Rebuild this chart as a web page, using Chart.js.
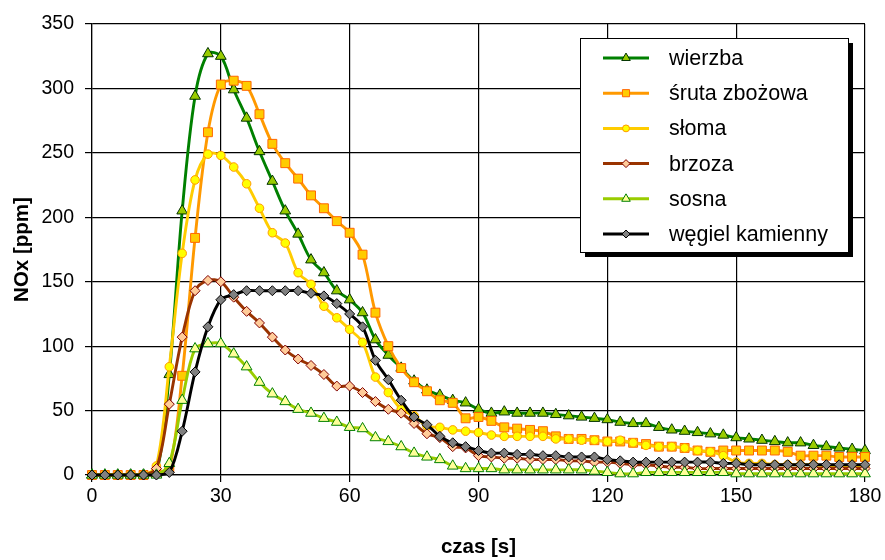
<!DOCTYPE html>
<html><head><meta charset="utf-8">
<script src="https://cdn.jsdelivr.net/npm/chart.js@4/dist/chart.umd.min.js"></script>
<style>html,body{margin:0;padding:0;background:#fff}canvas{display:block}</style>
</head><body>
<canvas id="c" width="885" height="560"></canvas>
<script>
// time [s]
const czas = [0,3,6,9,12,15,18,21,24,27,30,33,36,39,42,45,48,51,54,57,60,63,66,69,72,75,78,81,84,87,90,93,96,99,102,105,108,111,114,117,120,123,126,129,132,135,138,141,144,147,150,153,156,159,162,165,168,171,174,177,180];
// NOx [ppm]
const wierzba = [0,0,0,0,0,1,78,205,294,327,325,299,277,251,228,205,187,167,157,143,136,126,105,93,83,73,66,62,58,56,51,48,49,48,48,48,47,46,45,44,43,41,40,40,37,35,34,33,32,31,29,28,27,26,25,25,23,22,21,20,19];
const srutaZbozowa = [0,0,0,0,0,2,5,77,184,266,303,306,302,280,257,242,230,217,207,197,188,171,126,100,83,72,65,58,56,44,45,42,37,36,35,34,30,28,28,27,26,26,25,24,22,22,21,19,18,19,19,19,19,19,18,15,15,15,14,14,14];
const sloma = [0,0,0,0,0,7,84,172,229,249,248,239,226,207,188,180,157,148,131,122,113,103,76,64,51,46,38,37,35,34,33,31,30,30,30,30,28,28,27,27,26,27,25,23,22,22,21,19,18,15,10,9,9,8,8,8,8,7,7,7,7];
const brzoza = [0,0,0,0,0,5,55,107,143,151,150,138,127,118,107,97,90,85,78,69,69,64,57,51,48,40,32,29,22,21,15,14,13,13,12,12,12,11,11,10,10,9,8,8,7,6,6,5,5,5,5,5,5,5,5,5,5,5,5,5,5];
const sosna = [0,0,0,0,0,0,9,58,98,102,102,94,84,72,63,57,51,48,44,41,37,36,29,26,22,17,14,12,7,5,5,5,4,4,4,4,4,4,4,3,2,1,1,2,2,2,2,2,2,2,1,1,1,1,1,1,1,1,1,1,1];
const wegielKamienny = [0,0,0,0,0,0,2,34,80,115,136,140,143,143,143,143,143,141,139,133,125,115,89,74,58,45,39,30,25,22,19,17,17,16,16,15,15,14,14,14,12,11,10,10,10,10,10,10,10,9,9,8,8,8,8,8,8,8,8,8,8];

const nazwy = ['wierzba','śruta zbożowa','słoma','brzoza','sosna','węgiel kamienny'];
const serie = [wierzba, srutaZbozowa, sloma, brzoza, sosna, wegielKamienny];
const xTicks = [0,30,60,90,120,150,180];
const yTicks = [0,50,100,150,200,250,300,350];

const styles = [
  {line:'#008000', fill:'#99cc00', border:'#003300', pt:'triangle', r:6.2},
  {line:'#ff9900', fill:'#ffcc00', border:'#ff6600', pt:'rect', r:6.3},
  {line:'#ffcc00', fill:'#ffff00', border:'#ff9900', pt:'circle', r:4.3},
  {line:'#993300', fill:'#ffcc99', border:'#800000', pt:'rectRot', r:5},
  {line:'#99cc00', fill:'#ffff99', border:'#008000', pt:'triangle', r:6.2},
  {line:'#000000', fill:'#808080', border:'#000000', pt:'rectRot', r:5}
];

const FONT = '"Liberation Sans", Arial, sans-serif';

const datasets = serie.map((vals, i) => ({
  label: nazwy[i],
  data: vals.map((v, k) => ({x: czas[k], y: v})),
  borderColor: styles[i].line,
  backgroundColor: styles[i].fill,
  pointBackgroundColor: styles[i].fill,
  pointBorderColor: styles[i].border,
  pointBorderWidth: 1,
  pointStyle: styles[i].pt,
  pointRadius: styles[i].r,
  borderWidth: 2.9,
  tension: 0.33,
  fill: false,
  clip: false,
  order: serie.length - i
}));

const legendPlugin = {
  id: 'excelLegend',
  afterDraw(chart) {
    const ctx = chart.ctx;
    const bx = 580, by = 38, bw = 268, bh = 214;
    ctx.save();
    ctx.fillStyle = '#000';
    ctx.fillRect(bx + 5, by + 5, bw, bh);
    ctx.fillStyle = '#fff';
    ctx.fillRect(bx, by, bw, bh);
    ctx.strokeStyle = '#000';
    ctx.lineWidth = 1;
    ctx.strokeRect(bx + 0.5, by + 0.5, bw, bh);
    datasets.forEach((ds, i) => {
      const cy = by + 20 + i * 35.2;
      ctx.strokeStyle = ds.borderColor;
      ctx.lineWidth = 3;
      ctx.beginPath(); ctx.moveTo(603, cy); ctx.lineTo(649, cy); ctx.stroke();
      ctx.fillStyle = ds.pointBackgroundColor;
      ctx.strokeStyle = ds.pointBorderColor;
      ctx.lineWidth = 1;
      Chart.helpers.drawPoint(ctx, {pointStyle: ds.pointStyle, radius: ds.pointRadius * 0.8, borderWidth: 1, rotation: 0}, 626, cy);
      ctx.fillStyle = '#000';
      ctx.font = '21.5px ' + FONT;
      ctx.textBaseline = 'middle';
      ctx.textAlign = 'left';
      ctx.fillText(ds.label, 669, cy + 1);
    });
    ctx.restore();
  }
};

new Chart(document.getElementById('c'), {
  type: 'line',
  data: { datasets },
  plugins: [legendPlugin],
  options: {
    responsive: false,
    animation: false,
    devicePixelRatio: 1,
    layout: { padding: { left: 0, right: 20, top: 24, bottom: 0 } },
    plugins: { legend: { display: false }, tooltip: { enabled: false } },
    scales: {
      x: {
        type: 'linear', min: 0, max: 180,
        afterBuildTicks(s) { s.ticks = xTicks.map(v => ({value: v})); },
        afterFit(s) { s.height = 85; },
        ticks: { color: '#000', font: { family: FONT, size: 19.5 }, padding: 3, maxRotation: 0 },
        grid: { color: '#000', lineWidth: 1.2, tickLength: 7 },
        border: { color: '#000', width: 1.2 },
        title: { display: true, text: 'czas [s]', color: '#000', font: { family: FONT, size: 20.5, weight: 'bold' }, padding: { top: 0, bottom: 0 } }
      },
      y: {
        type: 'linear', min: 0, max: 350,
        afterBuildTicks(s) { s.ticks = yTicks.map(v => ({value: v})); },
        afterFit(s) { s.width = 92; },
        ticks: { color: '#000', font: { family: FONT, size: 19.5 }, padding: 11 },
        grid: { color: '#000', lineWidth: 1.2, tickLength: 7 },
        border: { color: '#000', width: 1.2 },
        title: { display: true, text: 'NOx [ppm]', color: '#000', font: { family: FONT, size: 20.5, weight: 'bold' }, padding: { top: 10, bottom: 0 } }
      }
    }
  }
});
</script>
</body></html>
